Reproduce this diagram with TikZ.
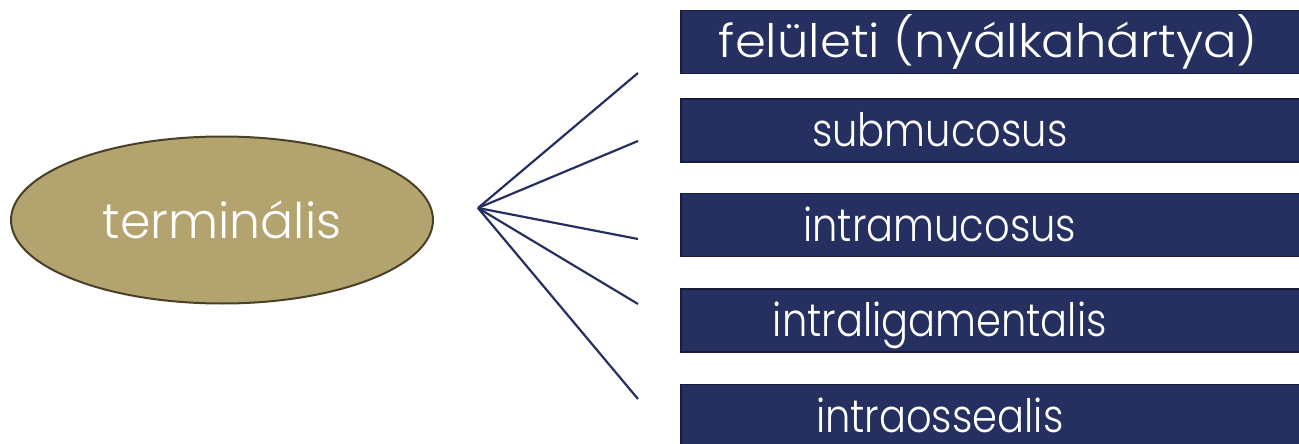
\documentclass[tikz,border=0pt]{standalone}
\usepackage{fontspec}
\setmainfont{Poppins}[UprightFont={* Light}]
\newfontfamily\wideface{Poppins}[UprightFont={* Light},FakeStretch=1.08]
\newfontfamily\narrowface{Poppins}[UprightFont={* Light},FakeStretch=0.87]
\usetikzlibrary{positioning,shapes.geometric}
\definecolor{FigureNavy}{HTML}{253060}
\definecolor{FigureDark}{HTML}{161C3A}
\definecolor{FigureGold}{HTML}{B3A36E}
\definecolor{FigureBrown}{HTML}{4A4028}

\begin{document}
\begin{tikzpicture}[x=1pt,y=-1pt,
  tbox/.style={draw=FigureDark,fill=FigureNavy,line width=1.5pt,anchor=west,
    minimum width=625pt,minimum height=63pt,inner sep=0pt},
  tlabel/.style={text=white,inner sep=0pt,text height=35pt,text depth=10pt,yshift=-3.5pt}]
  \useasboundingbox (0,0) rectangle (1299,444);
  \node[ellipse,draw=FigureBrown,fill=FigureGold,line width=2pt,minimum width=422pt,
    minimum height=167pt,text=white,font=\fontsize{49}{58}\selectfont] (term) at (222,220) {terminális};
  \coordinate (hub) at (478,208);
  \foreach \i/\by/\ey/\dx/\f/\t in {1/42/73/-5/\wideface/felületi (nyálkahártya),
      2/130.5/141/-53.5/\narrowface/submucosus,
      3/225/239/-53.5/\narrowface/intramucosus,
      4/320.5/304/-53.5/\narrowface/intraligamentalis,
      5/416/399/-53.5/\narrowface/intraossealis} {
    \node[tbox,label={[tlabel,xshift=\dx pt,font=\f\fontsize{46}{55}\selectfont]center:\t}] (b\i) at (680,\by) {};
    \coordinate (e\i) at (638,\ey);
    \draw[FigureNavy,line width=2.2pt] (hub) -- (e\i);
  }
\end{tikzpicture}
\end{document}
